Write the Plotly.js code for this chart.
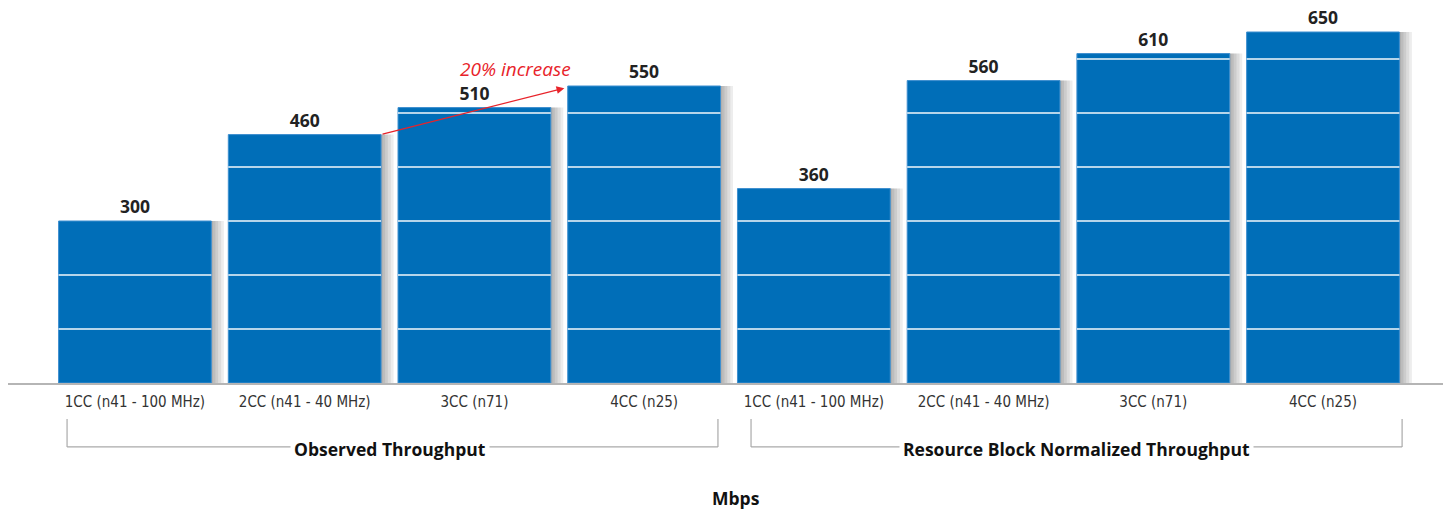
<!DOCTYPE html>
<html>
<head>
<meta charset="utf-8">
<script src="https://cdn.plot.ly/plotly-3.0.1.min.js"></script>
<style>
html,body{margin:0;padding:0;background:#fff;}
#chart{width:1450px;height:512px;}
</style>
</head>
<body>
<div id="chart"></div>
<script>
// ---- data ----
const categories = [
  "1CC (n41 - 100 MHz)", "2CC (n41 - 40 MHz)", "3CC (n71)", "4CC (n25)",
  "1CC (n41 - 100 MHz)", "2CC (n41 - 40 MHz)", "3CC (n71)", "4CC (n25)"
];
const values = [300, 460, 510, 550, 360, 560, 610, 650];
const groupLabels = ["Observed Throughput", "Resource Block Normalized Throughput"];
const gridValues = [100, 200, 300, 400, 500, 600];
const annotationText = "20% increase";
const axisTitle = "Mbps";

const xs = categories.map((_, i) => i);
const BAR_W = 0.9;
const barColor = "#006EB8";

const traces = [];
// soft drop shadows (stacked translucent copies)
const shadowSteps = [0.010, 0.024, 0.040, 0.058, 0.074];
shadowSteps.forEach((s) => {
  traces.push({
    type: "bar", x: xs, y: values,
    width: BAR_W, offset: -BAR_W / 2 + s,
    marker: { color: "rgba(0,0,0,0.07)", line: { width: 0 } },
    hoverinfo: "skip", showlegend: false
  });
});
traces.push({
  type: "bar", x: xs, y: values,
  width: BAR_W, offset: -BAR_W / 2,
  marker: { color: barColor, line: { color: "#3d8fd0", width: 1 } },
  text: values.map(String),
  textposition: "outside",
  cliponaxis: false,
  textfont: { family: "Open Sans, Lato, sans-serif", size: 17.5, color: "#222", weight: 700 },
  hoverinfo: "x+y", showlegend: false
});

const shapes = [];
// white grid lines drawn over the bars
values.forEach((v, i) => {
  gridValues.forEach((g) => {
    if (g < v) {
      shapes.push({
        type: "line", layer: "above", xref: "x", yref: "y",
        x0: i - BAR_W / 2, x1: i + BAR_W / 2, y0: g, y1: g,
        line: { color: "rgba(255,255,255,0.95)", width: 1.5 }
      });
    }
  });
});
// group brackets
const brackets = [[-0.40, 3.435], [3.63, 7.466]];
const bTop = -0.095, bBot = -0.169;
brackets.forEach(([a, b]) => {
  shapes.push({ type: "line", xref: "x", yref: "paper", x0: a, x1: a, y0: bTop, y1: bBot, line: { color: "#aaa", width: 1.2 } });
  shapes.push({ type: "line", xref: "x", yref: "paper", x0: a, x1: b, y0: bBot, y1: bBot, line: { color: "#aaa", width: 1.2 } });
  shapes.push({ type: "line", xref: "x", yref: "paper", x0: b, x1: b, y0: bTop, y1: bBot, line: { color: "#aaa", width: 1.2 } });
});

const annotations = [
  {
    xref: "x", yref: "paper", x: 1.5, y: bBot - 0.006, text: "<b>" + groupLabels[0] + "</b>",
    showarrow: false, bgcolor: "#fff", borderpad: 3, xanchor: "center", yanchor: "middle",
    font: { family: "Open Sans, Lato, sans-serif", size: 17.5, color: "#111" }
  },
  {
    xref: "x", yref: "paper", x: 5.545, y: bBot - 0.006, text: "<b>" + groupLabels[1] + "</b>",
    showarrow: false, bgcolor: "#fff", borderpad: 3, xanchor: "center", yanchor: "middle",
    font: { family: "Open Sans, Lato, sans-serif", size: 17.5, color: "#111" }
  },
  {
    xref: "paper", yref: "paper", x: 0.507, y: -0.305, text: "<b>" + axisTitle + "</b>",
    showarrow: false, xanchor: "center", yanchor: "middle",
    font: { family: "Open Sans, Lato, sans-serif", size: 17.5, color: "#111" }
  },
  // arrow
  {
    xref: "x", yref: "y", axref: "x", ayref: "y",
    x: 2.53, y: 546, ax: 1.45, ay: values[1],
    text: "", showarrow: true, arrowhead: 2, arrowsize: 1.2, arrowwidth: 1.3,
    arrowcolor: "#e8232a", standoff: 0, startstandoff: 0
  },
  {
    xref: "x", yref: "y", x: 2.24, y: 581, text: "<i>" + annotationText + "</i>",
    showarrow: false, xanchor: "center", yanchor: "middle",
    font: { family: "Open Sans, Lato, sans-serif", size: 19, color: "#e8232a" }
  }
];

const layout = {
  width: 1450, height: 512,
  margin: { l: 8, r: 7, t: 5, b: 129 },
  paper_bgcolor: "#fff", plot_bgcolor: "#fff",
  barmode: "overlay",
  showlegend: false,
  xaxis: {
    range: [-0.748, 7.707],
    tickmode: "array", tickvals: xs, ticktext: categories,
    showgrid: false, zeroline: false,
    showline: true, linecolor: "#b5b5b5", linewidth: 2,
    ticks: "", ticklabelstandoff: 4,
    tickfont: { family: "Liberation Sans Narrow, DejaVu Sans Condensed, sans-serif", size: 15, color: "#333" },
    fixedrange: true
  },
  yaxis: {
    range: [0, 700],
    showgrid: false, zeroline: false, showline: false,
    showticklabels: false, ticks: "",
    fixedrange: true
  },
  shapes: shapes,
  annotations: annotations
};

Plotly.newPlot("chart", traces, layout, { displayModeBar: false, staticPlot: true });
</script>
</body>
</html>
